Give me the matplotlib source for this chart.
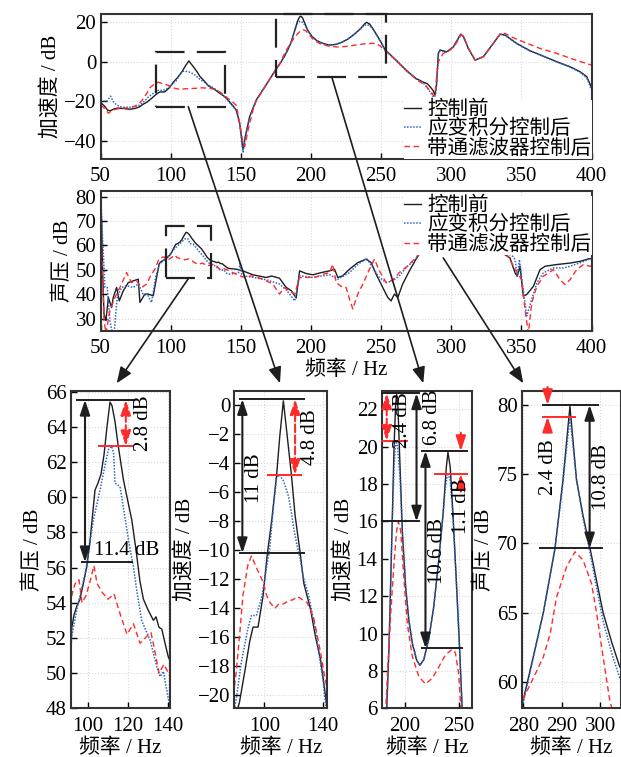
import numpy as np
import matplotlib
matplotlib.use("Agg")
import matplotlib.pyplot as plt
from matplotlib.patches import Rectangle, FancyArrowPatch

plt.rcParams["font.family"] = ["Liberation Serif", "Noto Sans CJK SC"]
plt.rcParams["font.size"] = 15
plt.rcParams["axes.unicode_minus"] = True

# ---- data (frequency Hz, level dB) ----
acc_before = [
    (50, -20.5), (53, -22.5), (55, -24.4), (57, -24.8), (59, -24), (62, -23.4), (66, -23.6),
    (71, -24), (75, -23.5), (78, -22.7), (81, -21.2), (83, -20.5), (86.6, -18.4), (90, -16.3),
    (92.3, -15.3), (95.7, -15.3), (99.2, -13.1), (102, -10.3), (105, -8), (108.4, -4.8),
    (110.5, -2.2), (113, 0.3), (115.5, -2), (118.5, -4.8), (121, -7.6), (124.5, -10.2),
    (127, -12.3), (131.4, -14), (134.8, -15.9), (138.3, -17.5), (140, -18.7), (141.7, -20),
    (143.5, -21.5), (146.8, -24.4), (149.2, -31), (151.6, -44.5), (153.2, -37.8), (156.3, -27.8),
    (161, -19.4), (168, -11.8), (174, -5.1), (178, -1), (181, 2.5), (183.6, 6.0), (185.7, 9.3),
    (187.3, 12.9), (188.8, 16.4), (190.3, 20.0), (191.8, 22.3), (192.7, 22.8), (193.9, 22.1),
    (195.7, 19.1), (197.9, 15.5), (200.9, 12.5), (203.9, 10.7), (207, 9.5), (210.9, 8.6),
    (213.9, 8.3), (217.5, 8.6), (222.1, 9.7), (226.6, 11.4), (231.2, 13.9), (235.2, 16.4),
    (238.2, 18.9), (239.7, 19.7), (241.8, 18.9), (244.3, 16.4), (247.3, 12.9), (250.3, 9.3),
    (252.7, 6.0), (255, 4.5), (260.7, 0.7), (267.8, -4.3), (274.9, -8.5), (280, -10.3),
    (283, -11.2), (285.6, -13.2), (287.3, -14.8), (288.3, -17), (289.5, -12), (290.8, 4.1),
    (292, 5.8), (296.8, 4.9), (301.5, 7.4), (306.8, 13.8), (308.7, 12.5), (312.2, 6.6),
    (317, 0.7), (322.9, 2.4), (330, 9.1), (334.8, 13.8), (338.4, 13.3), (346.7, 9.1),
    (356.2, 5.4), (365.7, 2.7), (375.2, -0.1), (384.7, -2.6), (391.8, -5.1), (396.6, -7.6),
    (400, -13),
]
acc_strain = [
    (50, -19.4), (52, -19.8), (54.4, -20), (56, -18.5), (57.2, -17.4), (58.3, -19), (59, -20),
    (61, -21.5), (63.9, -22.7), (67, -23), (71, -23), (75, -22.5), (78, -21.9), (81.2, -20.0),
    (84.3, -17.7), (88.8, -15.4), (91.2, -14.5), (94.6, -14.5), (98.1, -13.3), (101.5, -11.2),
    (103.8, -9.8), (106.1, -7.1), (108.4, -5.0), (110.2, -4.8), (113, -5.2), (115.3, -5.9),
    (116.4, -6.25), (118.8, -7.6), (119.9, -8.4), (122.2, -9.6), (124.5, -10.6), (126.5, -11.8),
    (130.2, -13.1), (134.8, -15.4), (138.3, -17.8), (140, -18.9), (141.7, -20.5), (143.5, -21.8),
    (146.8, -24.6), (149.2, -31.5), (151.6, -45.5), (153.2, -38), (156.3, -27.8), (161, -19.4),
    (168, -11.8), (174, -5.1), (178, -1), (181, 2.5), (183.6, 6.0), (185.7, 9.3), (187.3, 12.9),
    (188.8, 16.2), (190.3, 18.8), (191.3, 19.9), (192.4, 20.3), (193.5, 20.0), (195.7, 18.4),
    (197.9, 15.3), (200.9, 12.5), (203.9, 10.7), (207, 9.5), (210.9, 8.6), (213.9, 8.3),
    (217.5, 8.6), (222.1, 9.7), (226.6, 11.4), (231.2, 13.9), (235.2, 16.3), (237.5, 17.9),
    (239.6, 18.6), (241.7, 18.2), (244.3, 16.2), (247.3, 12.8), (250.3, 9.2), (252.7, 6.0),
    (255, 4.3), (260.7, 0.5), (267.8, -4.5), (274.9, -8.7), (280, -10.6), (283.2, -13.5),
    (285.6, -16), (287.5, -18), (288.8, -17), (290, -8), (290.9, 3.8), (292, 5.4), (296.8, 4.6),
    (301.5, 7.2), (306.8, 13.6), (308.7, 12.6), (312.2, 6.6), (317, 0.7), (322.9, 2.4),
    (330, 9.1), (334.8, 13.6), (338.4, 13.2), (346.7, 9.0), (356.2, 5.3), (365.7, 2.6),
    (375.2, -0.2), (384.7, -2.8), (391.8, -5.4), (396.6, -8.2), (400, -14.3),
]
acc_bandpass = [
    (50, -21.9), (53, -23.5), (55.6, -26), (57.5, -25), (59, -24.4), (62, -23.8), (66, -23.5),
    (70, -23.2), (73.4, -22.7), (77, -21.6), (80.8, -18.4), (83.1, -15.9), (85.4, -13.1),
    (88.8, -11.0), (91.2, -10.4), (94.6, -11.2), (99.2, -12.2), (101.5, -13.1), (103.8, -13.6),
    (107.2, -14.0), (110, -13.7), (113, -13.7), (116.5, -13.5), (119.9, -13.4), (122, -13.2),
    (124.5, -13.3), (127, -13.5), (129.1, -13.6), (131.5, -14.1), (133.7, -14.7), (136, -15.8),
    (138.3, -17), (141, -18.6), (143, -19.6), (146.8, -22), (149.2, -31), (151.6, -41),
    (152.8, -42.8), (155.2, -34.4), (158.7, -24.4), (161, -19.8), (168, -11.8), (174, -5.1),
    (178, -0.8), (180.5, 3), (182.7, 6.0), (184.8, 8.4), (187.3, 11.1), (190.3, 13.8),
    (192.7, 15.5), (194.3, 16.0), (196.4, 15.5), (199.4, 12.9), (202.5, 10.5), (207, 8.8),
    (213, 7.7), (219.1, 7.3), (225.2, 7.6), (231.2, 8.2), (237.3, 8.85), (243.4, 9.15),
    (246.4, 9.0), (249.4, 7.9), (251.5, 6.0), (254, 4.8), (260.7, 0.5), (267.8, -4.5),
    (274.9, -8.8), (282, -12.3), (285.6, -15.2), (287.5, -17.2), (288.5, -16.5), (289.5, -8),
    (291, 0), (292, 1.6), (294.4, 4.1), (299.2, 5.8), (303, 8.5), (306.8, 13.3), (308.7, 12.8),
    (312.2, 6.8), (317, 0.8), (322.9, 2.5), (330, 9.2), (334.8, 13.8), (338.4, 14.1),
    (344, 12), (351.4, 9.9), (363.3, 6.6), (375.2, 4.1), (387.1, 1.1), (400, -1.8),
]

spl_before = [
    (50, 80.9), (50.8, 70), (51.5, 49.6), (52.5, 31.9), (53.9, 29.2), (55.6, 38.7), (57.9, 34.6),
    (59.1, 38.7), (61.5, 42.8), (63.4, 37.3), (66.2, 41.4), (69.8, 44.8), (73.3, 45.5),
    (76.9, 46.2), (78.1, 36.7), (81.6, 40.1), (84, 40.1), (87.6, 39.4), (90.4, 48.2),
    (91.9, 52.6), (93, 53.3), (94.4, 53.8), (96, 54.2), (97.5, 55), (99.4, 56.05), (101, 57.5),
    (103.5, 60.4), (105, 60.8), (106.5, 61.3), (108, 62.4), (109.5, 64), (111, 65.4),
    (112, 65.2), (113.5, 64.3), (115, 63), (117.7, 61), (119.5, 60), (121.9, 58.7), (124, 57),
    (126, 55.2), (127.7, 54.2), (130, 53.6), (132.7, 53), (134, 53.2), (135.5, 52.6),
    (136.9, 52.5), (138.5, 51.7), (140.2, 50.9), (141.5, 50.6), (146.8, 50.3), (151.5, 49.6),
    (158.6, 48), (163, 47.5), (168.1, 46.9), (172, 47.5), (177.6, 46.6), (182.4, 42.8),
    (186, 41.5), (189.5, 38.5), (191.9, 49.6), (196.7, 48.5), (201.4, 48), (207.3, 48.9),
    (213.3, 49.6), (216.8, 50.3), (219.2, 46.9), (222.7, 47.6), (227.5, 50.3), (233.4, 53),
    (239.3, 54.4), (242.9, 53), (246.5, 48.2), (251.2, 42.8), (254.8, 38.7), (257.1, 37.3),
    (259.5, 40.1), (261.9, 38.7), (265.4, 44.2), (270.2, 49.6), (274.9, 54.4), (277.5, 56.8),
    (280, 58.7), (282.5, 61.7), (285.2, 65), (288.2, 69.6), (290.3, 74.6), (292.1, 79.9),
    (293.8, 74.6), (295.5, 72.0), (297.2, 69.8), (299, 67.3), (300.7, 65), (303, 62.8),
    (305, 61.1), (308, 60), (315, 61), (325, 59.5), (335, 57.5), (341.9, 54.9), (345.5, 48.8),
    (347.1, 47.4), (349, 51.5), (351.4, 39.3), (353.8, 39.9), (358.6, 43.3), (363.3, 50.1),
    (366.9, 51.5), (375.2, 52.2), (384.7, 52.8), (391.8, 53.5), (397.8, 54.5), (400, 54.6),
]
spl_strain = [
    (50, 80.9), (50.8, 72), (51.5, 63), (53.2, 42.8), (54.8, 42.8), (56.7, 29.2), (58.5, 24),
    (60, 26), (61.9, 38.7), (65, 42.8), (68.6, 43.5), (73.3, 42.8), (76.9, 44.2), (80.4, 40.1),
    (84, 39.4), (86.4, 36.7), (89.5, 47.6), (91.9, 52.1), (94.4, 53.6), (99, 55.9),
    (102.7, 58.7), (106, 60.4), (108.5, 61.8), (110.2, 62.7), (111.8, 62.9), (112.8, 62.5),
    (113.5, 60.8), (116, 60.6), (118, 59.2), (120.2, 57.6), (122.7, 56.05), (124.5, 54.6),
    (126.8, 53.0), (129, 52.4), (131, 51.9), (134.3, 50.4), (136, 49.8), (137.7, 50.1),
    (140.2, 48.5), (141.5, 48.3), (146.8, 48.6), (148.5, 49), (149.5, 53), (150.5, 48.5),
    (151.5, 47.6), (158.6, 47), (168, 46), (177.7, 44.2), (183, 41.5), (188.4, 37.3),
    (191.9, 47.6), (201.4, 46.9), (207, 47.5), (213.3, 48), (219.2, 46.2), (227.5, 48.9),
    (233.4, 52.3), (239.8, 54.7), (244.1, 50.9), (248.8, 46.9), (253.6, 44.8), (258.3, 45.5),
    (263, 47.6), (267.8, 50.9), (274.9, 54.7), (277.5, 56.7), (280, 58.5), (282.5, 61.6),
    (285.2, 65), (288.2, 69.6), (290.3, 74.4), (292.1, 79.15), (293.8, 74.6), (295.5, 71.8),
    (297.2, 69.5), (299, 66.8), (300.7, 64.4), (303, 62), (305, 60.3), (308, 59.5),
    (315, 60.5), (325, 59), (335, 57.5), (341, 56.5), (344, 55.5), (345.5, 54.2),
    (347.1, 47.4), (348.6, 54.2), (351, 43.3), (353.8, 31.1), (357.4, 37.9), (361, 44.7),
    (365.7, 48.8), (372.8, 50.8), (380, 50.8), (384.7, 51.5), (391.8, 52.9), (399, 54.5),
    (400, 54.6),
]
spl_bandpass = [
    (50, 79.5), (51, 56.4), (52.5, 29.2), (53.9, 24), (56.7, 33.3), (60.3, 38.7), (65, 44.2),
    (68.6, 48.9), (72.1, 44.8), (75.7, 45.5), (79.3, 42.8), (82.8, 44.2), (85.7, 47.6),
    (88.8, 50.3), (91.5, 54.2), (92.7, 54.8), (94, 55.2), (95.5, 55.3), (97, 54.0), (99, 54.4),
    (101, 55.2), (103, 56.1), (104.5, 55.1), (107, 54.6), (110, 54.2), (113, 54.5),
    (116.5, 53.2), (119.5, 52.2), (122.7, 52.8), (126, 51.7), (129.5, 52.1), (131.5, 52.3),
    (133, 51.5), (135.5, 50), (138, 50.5), (140.2, 50), (141.5, 49.7), (146.8, 48.2),
    (151.5, 47.1), (158.6, 47.6), (165.7, 46.2), (172.8, 44.2), (177.6, 40.1), (181.1, 42.8),
    (184.8, 41.4), (188.4, 40.1), (191.9, 46.9), (196.7, 46.9), (203.8, 47.1), (208.5, 48.2),
    (213.3, 48.9), (215.6, 52.3), (218, 44.8), (222.7, 42.8), (225.1, 42.8), (227.5, 38),
    (229.9, 34), (233.4, 40.1), (237, 44.2), (241.7, 50.3), (245.3, 54.4), (248.8, 49.6),
    (253.6, 44.8), (258.3, 45.8), (263, 48.9), (268.9, 51.6), (273.7, 54.4), (277, 56.5),
    (280, 58.8), (283, 60.5), (285.2, 61.8), (287, 63.5), (288.6, 66.1), (291.2, 68.3),
    (293.4, 69.4), (295.5, 68.8), (297.7, 67.1), (299, 65), (300.7, 61.8), (302.4, 58.7),
    (303.5, 57.5), (306, 56.5), (315, 57.5), (325, 58), (335, 57), (340, 56), (343.1, 52.9),
    (347.1, 48.8), (350.2, 46), (352.6, 33.8), (355, 24), (357.4, 36.5), (361, 43.3),
    (365.7, 47.4), (372.8, 50.1), (377.6, 46), (381.1, 44), (384.7, 46), (389.4, 50.1),
    (394.2, 52.2), (399, 51.5), (400, 51.6),
]

labels = ["控制前", "应变积分控制后", "带通滤波器控制后"]

BLACK = "#1e1e1e"
BLUE = "#2f66c8"
RED = "#ff2a2a"
styles = [
    dict(color=BLACK, lw=1.0, ls="-"),
    dict(color=BLUE, lw=1.1, ls=(0, (1, 1))),
    dict(color=RED, lw=1.0, ls=(0, (4, 2.5))),
]

W, H = 621, 757
fig = plt.figure(figsize=(W / 100, H / 100), dpi=100)


def px_axes(x0, y0, x1, y1):
    return fig.add_axes([x0 / W, 1 - y1 / H, (x1 - x0) / W, (y1 - y0) / H])


def style_axes(ax):
    for s in ax.spines.values():
        s.set_linewidth(1.5)
        s.set_color("#333333")
    ax.tick_params(direction="in", length=4, width=1, labelsize=15)
    ax.tick_params(axis="x", pad=6)
    ax.tick_params(axis="y", pad=3)
    ax.grid(True, color="#d8d8d8", ls=":", lw=0.8)
    ax.set_axisbelow(True)


def draw_series(ax, series_list):
    handles = []
    for data, st, lab in zip(series_list, styles, labels):
        f, v = np.array(data).T
        h, = ax.plot(f, v, label=lab, **st)
        handles.append(h)
    return handles


acc = [acc_before, acc_strain, acc_bandpass]
spl = [spl_before, spl_strain, spl_bandpass]
leg_kw = dict(borderaxespad=0, borderpad=0.02, handlelength=0.8, handletextpad=0.3,
              labelspacing=0, fontsize=14.8, frameon=True, fancybox=False, framealpha=1,
              facecolor="white", edgecolor="none")

# top: acceleration
ax1 = px_axes(100.5, 14, 591.5, 159)
style_axes(ax1)
draw_series(ax1, acc)
ax1.set_xlim(50, 400)
ax1.set_ylim(-49, 23.9)
ax1.set_xticks(range(50, 401, 50))
ax1.set_yticks([-40, -20, 0, 20])
ax1.set_ylabel("加速度 / dB", labelpad=2)
ax1.legend(loc="lower right", bbox_to_anchor=(1, 0), **leg_kw)

# middle: sound pressure
ax2 = px_axes(100.5, 191.3, 591.5, 330.7)
style_axes(ax2)
draw_series(ax2, spl)
ax2.set_xlim(50, 400)
ax2.set_ylim(25.1, 82.2)
ax2.set_xticks(range(50, 401, 50))
ax2.set_yticks(range(30, 81, 10))
ax2.set_ylabel("声压 / dB", labelpad=2)
ax2.set_xlabel("频率 / Hz", labelpad=2)
ax2.legend(loc="upper right", bbox_to_anchor=(1, 0.965), **leg_kw)

# dashed zoom boxes
box_ls = (0, (13, 5.5))
for ax, (x0, x1, y0, y1) in [(ax1, (89.5, 139.1, -22.7, 4.9)),
                             (ax1, (174.8, 253.8, -7.6, 23.9)),
                             (ax2, (96.7, 128.5, 46.6, 68.0))]:
    ax.add_patch(Rectangle((x0, y0), x1 - x0, y1 - y0, fill=False, ec="#222222", lw=1.6,
                           ls=box_ls, clip_on=False, zorder=6))

# bottom detail panels
p1 = px_axes(71, 390.7, 170, 708.3)
p2 = px_axes(234.3, 390.7, 327.3, 708.3)
p3 = px_axes(381.7, 390.7, 472.3, 708.3)
p4 = px_axes(521.7, 390.7, 620.5, 708.3)
details = [
    (p1, spl, (91.5, 141), (48, 66.05), [100, 120, 140], np.arange(48, 67, 2), "声压 / dB"),
    (p2, acc, (79.5, 143), (-20.9, 1.0), [100, 140], np.arange(-20, 1, 2), "加速度 / dB"),
    (p3, acc, (179, 262), (6, 23), [200, 250], np.arange(6, 23, 2), "加速度 / dB"),
    (p4, spl, (279.6, 305.2), (58.1, 81.03), [280, 290, 300], [60, 65, 70, 75, 80], "声压 / dB"),
]
for ax, series, xl, yl, xt, yt, ylab in details:
    style_axes(ax)
    draw_series(ax, series)
    ax.set_xlim(*xl)
    ax.set_ylim(*yl)
    ax.set_xticks(xt)
    ax.set_yticks(yt)
    ax.set_ylabel(ylab, labelpad=2)
    ax.set_xlabel("频率 / Hz", labelpad=2)


def hline(ax, x0, x1, y, color):
    ax.plot([x0, x1], [y, y], color=color, lw=1.4, clip_on=False, zorder=7)


def dim(ax, x, y0, y1, color, ls="-"):
    ax.annotate("", xy=(x, y1), xytext=(x, y0), annotation_clip=False,
                arrowprops=dict(arrowstyle="<|-|>,head_length=0.6,head_width=0.2",
                                color=color, lw=1.5, ls=ls, shrinkA=0, shrinkB=0,
                                mutation_scale=15), zorder=8)


def pointer(ax, x, y_from, y_to, color):
    ax.annotate("", xy=(x, y_to), xytext=(x, y_from), annotation_clip=False,
                arrowprops=dict(arrowstyle="-|>,head_length=0.6,head_width=0.2",
                                color=color, lw=1.5, shrinkA=0, shrinkB=0,
                                mutation_scale=15), zorder=8)


def vtext(ax, x, y, s):
    ax.text(x, y, s, rotation=90, ha="center", va="center", fontsize=15, zorder=9)


# panel 1 annotations
hline(p1, 94.7, 122.4, 65.53, BLACK)
hline(p1, 96.9, 121.9, 56.3, BLACK)
hline(p1, 105.7, 122.4, 62.9, RED)
dim(p1, 98.5, 65.53, 56.3, BLACK)
dim(p1, 118.9, 65.53, 62.9, RED, "--")
vtext(p1, 127.7, 64.2, "2.8 dB")
p1.text(119.3, 56.45, "11.4 dB", ha="center", va="bottom", fontsize=15, zorder=9)

# panel 2 annotations
hline(p2, 83.1, 126.8, 0.42, BLACK)
hline(p2, 83.1, 126.8, -10.2, BLACK)
hline(p2, 102.6, 125.0, -4.8, RED)
dim(p2, 85.0, 0.42, -10.2, BLACK)
dim(p2, 121.0, 0.42, -4.8, RED, "--")
vtext(p2, 93.4, -5.0, "11 dB")
vtext(p2, 131.4, -2.2, "4.8 dB")

# panel 3 annotations
hline(p3, 179.7, 213.0, 22.86, BLACK)
hline(p3, 179.7, 202.5, 20.32, RED)
hline(p3, 179.7, 213.0, 16.0, BLACK)
hline(p3, 216.1, 257.0, 19.77, BLACK)
hline(p3, 216.1, 252.4, 9.21, BLACK)
hline(p3, 228.2, 257.0, 18.54, RED)
dim(p3, 183.6, 22.86, 20.32, RED, "--")
dim(p3, 210.9, 22.86, 16.0, BLACK)
dim(p3, 219.1, 19.77, 9.21, BLACK)
pointer(p3, 251.5, 20.75, 19.77, RED)
pointer(p3, 251.5, 17.6, 18.54, RED)
vtext(p3, 197.9, 21.4, "2.4 dB")
vtext(p3, 225.2, 21.6, "6.8 dB")
vtext(p3, 229.7, 14.4, "10.6 dB")
vtext(p3, 252.4, 16.8, "1.1 dB")

# panel 4 annotations
hline(p4, 285.2, 299.4, 80.0, BLACK)
hline(p4, 285.2, 293.4, 79.15, RED)
hline(p4, 284.3, 300.5, 69.65, BLACK)
pointer(p4, 286.3, 81.3, 80.0, RED)
pointer(p4, 286.3, 78.0, 79.15, RED)
dim(p4, 297.2, 80.0, 69.65, BLACK)
vtext(p4, 286.5, 75.5, "2.4 dB")
vtext(p4, 300.3, 74.8, "10.8 dB")

# connector arrows (figure pixels)
connectors = [
    ((188.3, 106.7), (280.0, 383.3)),
    ((331.7, 76.7), (423.3, 383.3)),
    ((188.3, 278.7), (116.7, 383.3)),
    ((443.3, 258.0), (523.3, 383.3)),
]
for (xa, ya), (xb, yb) in connectors:
    fig.add_artist(FancyArrowPatch((xa / W, 1 - ya / H), (xb / W, 1 - yb / H),
                                   transform=fig.transFigure,
                                   arrowstyle="-|>,head_length=0.7,head_width=0.28",
                                   mutation_scale=14, lw=1.2, color=BLACK,
                                   shrinkA=0, shrinkB=0, zorder=10))

fig.savefig("out.png", dpi=100)
